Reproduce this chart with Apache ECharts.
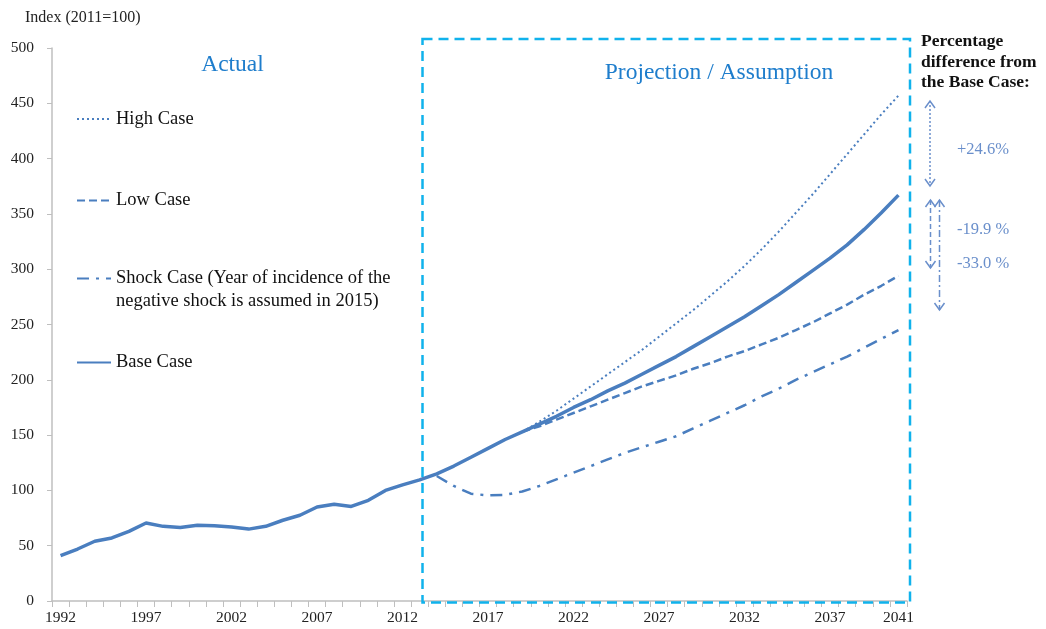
<!DOCTYPE html>
<html><head><meta charset="utf-8">
<script src="https://cdn.jsdelivr.net/npm/echarts@6/dist/echarts.min.js"></script>
<style>html,body{margin:0;padding:0;background:#fff}#c{width:1046px;height:629px}</style>
</head><body><div id="c"></div>
<script>
// Categories (years)
const years = ['1992','1993','1994','1995','1996','1997','1998','1999','2000','2001','2002','2003','2004','2005','2006','2007','2008','2009','2010','2011','2012','2013','2014','2015','2016','2017','2018','2019','2020','2021','2022','2023','2024','2025','2026','2027','2028','2029','2030','2031','2032','2033','2034','2035','2036','2037','2038','2039','2040','2041'];
// Actual index 1992-2013
const actualValues = [41,47,54,57,63,70.5,67.5,66.5,68.5,68,67,65,67.5,73,77.5,85,87.5,85.5,91,100,105,109.5];
// Base case projection 2014-2041
const baseProjection = [115,122,130,138,146,153,160,167,175,182,190,197,205,213,221,230,239,248,257,267,277,288,299,310,322,336,351,367];
// High case 2019-2041
const highCase = [153,162,172,183,194,205,216,227,239,251,263,276,289,303,318,334,351,368,386,404,422,440,457];
// Low case 2019-2041
const lowCase = [153,158,164,170,176,182,188,194,199,204,210,215,221,226,232,238,245,252,260,268,277,285,294];
// Shock case 2014-2041
const shockCase = [113,104,97,95.5,96,99,104,110,116,122,128,134,139,144,149,156,163,170,177,185,192,200,207,214,221,229,237,245];
// Y-axis ticks
const yMin = 0, yMax = 500, yStep = 50;

const pad = (n) => new Array(n).fill('-');
const baseSeries = actualValues.concat(baseProjection);
const highSeries = pad(years.indexOf('2019')).concat(highCase);
const lowSeries = pad(years.indexOf('2019')).concat(lowCase);
const shockSeries = pad(years.indexOf('2014')).concat(shockCase);

const SERIF = '"Liberation Serif", "Times New Roman", serif';
const LINE = '#4A7EBF';
const BOX = '#10B2EC';
const ANN = '#6A8FCB';

const legendBase = {
  orient: 'horizontal', padding: 0, itemWidth: 34, itemHeight: 22, itemGap: 0,
  selectedMode: false, itemStyle: {opacity: 0},
  textStyle: {fontFamily: SERIF, fontSize: 18.5, color: '#111'}
};

function arrowHeads(x, y1, y2) {
  return [
    {type:'polyline', shape:{points:[[x-5,y1+7],[x,y1],[x+5,y1+7]]}, style:{stroke:ANN, lineWidth:1.5, fill:null}},
    {type:'polyline', shape:{points:[[x-5,y2-7],[x,y2],[x+5,y2-7]]}, style:{stroke:ANN, lineWidth:1.5, fill:null}}
  ];
}

const chart = echarts.init(document.getElementById('c'));
chart.setOption({
  animation: false,
  backgroundColor: '#fff',
  grid: {left: 52, right: 139, top: 48, bottom: 28, containLabel: false},
  xAxis: {
    type: 'category', data: years, boundaryGap: true,
    axisLine: {lineStyle: {color: '#BFBFBF', width: 1.5}},
    axisTick: {show: true, interval: 0, length: 6, lineStyle: {color: '#BFBFBF'}},
    axisLabel: {
      interval: (i) => i % 5 === 0 || i === years.length - 1,
      fontFamily: SERIF, fontSize: 15.5, color: '#222', margin: 9
    },
    splitLine: {show: false}
  },
  yAxis: {
    type: 'value', min: yMin, max: yMax, interval: yStep,
    axisLine: {show: true, lineStyle: {color: '#BFBFBF', width: 1.5}},
    axisTick: {show: true, length: 5, lineStyle: {color: '#BFBFBF'}},
    axisLabel: {fontFamily: SERIF, fontSize: 15.5, color: '#222', margin: 18},
    splitLine: {show: false}
  },
  legend: [
    Object.assign({}, legendBase, {data: ['High Case'], left: 76, top: 109.5}),
    Object.assign({}, legendBase, {data: ['Low Case'], left: 76, top: 191}),
    Object.assign({}, legendBase, {data: ['Shock Case'], left: 76, top: 269,
      formatter: () => 'Shock Case (Year of incidence of the'}),
    Object.assign({}, legendBase, {data: ['Base Case'], left: 76, top: 353})
  ],
  series: [
    {name: 'High Case', type: 'line', data: highSeries, symbol: 'none', z: 3,
     lineStyle: {color: LINE, width: 2, type: [2, 3]}, itemStyle: {color: LINE}},
    {name: 'Low Case', type: 'line', data: lowSeries, symbol: 'none', z: 3,
     lineStyle: {color: LINE, width: 2.5, type: [8, 4]}, itemStyle: {color: LINE}},
    {name: 'Shock Case', type: 'line', data: shockSeries, symbol: 'none', z: 3,
     lineStyle: {color: LINE, width: 2.5, type: [12, 7, 3, 7]}, itemStyle: {color: LINE}},
    {name: 'Base Case', type: 'line', data: baseSeries, symbol: 'none', z: 4,
     lineStyle: {color: LINE, width: 3.5}, itemStyle: {color: LINE}}
  ],
  graphic: [
    {type:'text', x: 25, y: 18, style:{text:'Index (2011=100)', font:'16px ' + SERIF, fill:'#222', verticalAlign:'middle'}},
    {type:'text', x: 116, y: 301, style:{text:'negative shock is assumed in 2015)', font:'18.5px ' + SERIF, fill:'#111', verticalAlign:'middle'}},
    {type:'text', x: 232.5, y: 65, style:{text:'Actual', font:'23.5px ' + SERIF, fill:'#1E7DCC', align:'center', verticalAlign:'middle'}},
    {type:'text', x: 719, y: 73, style:{text:'Projection / Assumption', font:'23.5px ' + SERIF, fill:'#1E7DCC', align:'center', verticalAlign:'middle'}},
    {type:'rect', z: 10, shape:{x: 422.5, y: 39, width: 487.5, height: 563.5}, style:{fill:null, stroke: BOX, lineWidth: 2.5, lineDash:[10,6]}},
    {type:'text', x: 921, y: 31.5, style:{text:'Percentage\ndifference from\nthe Base Case:', font:'bold 17.5px ' + SERIF, fill:'#111', lineHeight: 20.5}},
    {type:'line', shape:{x1:930, y1:101, x2:930, y2:186}, style:{stroke:ANN, lineWidth:1.5, lineDash:[2,2]}},
    ...arrowHeads(930, 101, 186),
    {type:'line', shape:{x1:930.5, y1:200, x2:930.5, y2:268}, style:{stroke:ANN, lineWidth:1.5, lineDash:[5,3]}},
    ...arrowHeads(930.5, 200, 268),
    {type:'line', shape:{x1:939.5, y1:200, x2:939.5, y2:310}, style:{stroke:ANN, lineWidth:1.5, lineDash:[7,3,2,3]}},
    ...arrowHeads(939.5, 200, 310),
    {type:'text', x: 957, y: 150, style:{text:'+24.6%', font:'16.5px ' + SERIF, fill:ANN, verticalAlign:'middle'}},
    {type:'text', x: 957, y: 230, style:{text:'-19.9 %', font:'16.5px ' + SERIF, fill:ANN, verticalAlign:'middle'}},
    {type:'text', x: 957, y: 264, style:{text:'-33.0 %', font:'16.5px ' + SERIF, fill:ANN, verticalAlign:'middle'}}
  ]
});
</script>
</body></html>
